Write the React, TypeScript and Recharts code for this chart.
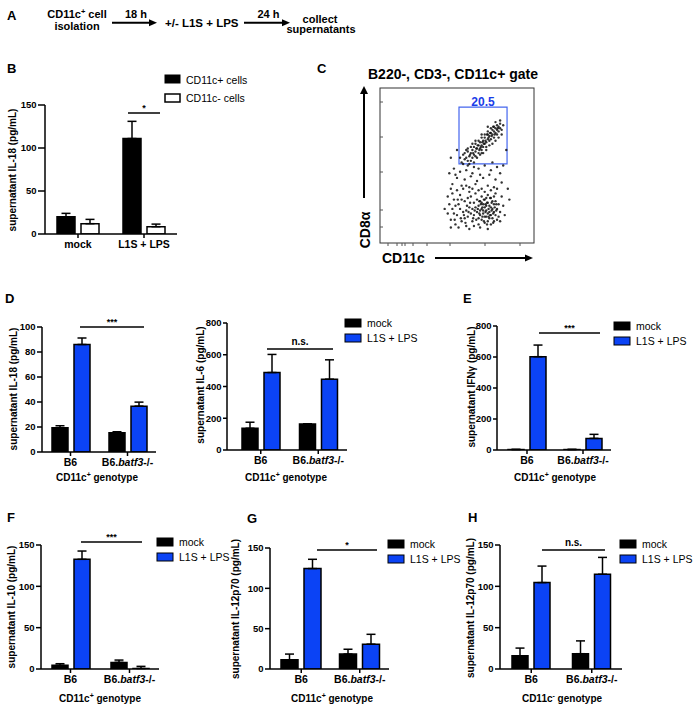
import React from "react";
import {
  Bar,
  BarChart,
  ErrorBar,
  ReferenceArea,
  Scatter,
  ScatterChart,
  XAxis,
  YAxis,
} from "recharts";

const FONT = "'Liberation Sans', Arial, Helvetica, sans-serif";
const BLUE = "#0b43f5";
const GATE = "#4466ee";

// panel B
const bGroups = ["mock", "L1S + LPS"];
const bPos = [20, 111];
const bPosErr = [4, 20];
const bNeg = [12, 8.5];
const bNegErr = [5, 3];

// panels D-H share the genotype categories
const genotypes = ["B6", "B6.batf3-/-"];

const il18Mock = [19.4, 15.4];
const il18MockErr = [1.6, 0.8];
const il18Lps = [86, 36.7];
const il18LpsErr = [5.2, 3.2];

const il6Mock = [137, 164];
const il6MockErr = [38, 0];
const il6Lps = [488, 446];
const il6LpsErr = [114, 122];

const ifngMock = [3, 3];
const ifngMockErr = [1, 1];
const ifngLps = [602, 75];
const ifngLpsErr = [75, 26];

const il10Mock = [4.4, 8];
const il10MockErr = [2, 2.8];
const il10Lps = [132.7, 0.6];
const il10LpsErr = [10, 2.6];

const il12PosMock = [11.5, 18.5];
const il12PosMockErr = [7, 6];
const il12PosLps = [124.5, 30.8];
const il12PosLpsErr = [11.5, 12.2];

const il12NegMock = [16, 18.5];
const il12NegMockErr = [9.3, 15.5];
const il12NegLps = [104.5, 114.6];
const il12NegLpsErr = [20, 20.4];

// panel C, CD11c+ gate events (CD11c, CD8a) on a 0-100 display scale
const gateBox = { x1: 51.3, x2: 82.5, y1: 51, y2: 87.7 };
const gatePct = "20.5";
const cd8Upper = [
  [53,52],[55,54],[54,57],[56,55],[57,53],[58,56],[57,59],[59,58],[60,55],[60,60],[61,57],[62,59],[61,62],[63,61],[62,64],[64,58],
  [64,63],[65,61],[65,65],[66,63],[66,60],[67,66],[67,62],[68,64],[68,68],[69,65],[69,62],[70,67],[70,70],[71,66],[71,69],[72,71],
  [72,67],[73,70],[73,73],[74,68],[74,72],[75,71],[75,74],[76,73],[76,70],[77,75],[77,72],[78,74],[78,77],[79,73],[76,76],[74,75],
  [72,74],[70,72],[68,70],[66,68],[64,66],[62,66],[59,62],[57,61],[55,58],[58,51],[61,52],[63,55],[65,57],[67,58],[69,60],[71,63],
  [73,64],[75,66],[77,68],[79,70],[80,76],[78,79],[75,78],[70,75],[66,70],[60,64],[56,60],[52,55],[54,51],[59,53],[62,56],[66,58],
  [58.5,57],[60.5,58],[62.5,61],[64.5,60],[66.5,65],[68.5,66],[70.5,68],[72.5,69],[74.5,70],[76.5,74],[63.5,63],[67.5,64],[71.5,71],
  [73.5,75],[69.5,70],[65.5,62],
];
const cd8Middle = [
  [48,48],[52,46],[56,47],[60,45],[64,48],[68,50],[72,47],[76,49],[50,42],[55,41],[59,43],[63,40],[67,42],[71,44],[75,41],[78,45],
  [47,38],[53,37],[58,36],[62,38],[66,35],[70,37],[74,36],[49,44],[57,50],[65,44],[73,52],[61,49],[46,35],[79,39],
];
const cd8Lower = [
  [63,20],[64,24],[65,18],[65,27],[66,22],[66,15],[67,25],[67,19],[68,23],[68,28],[69,17],[69,21],[70,26],[70,14],[71,20],[71,24],
  [72,18],[72,29],[73,22],[73,16],[74,25],[74,20],[75,27],[75,18],[76,22],[64,16],[66,30],[68,13],[70,31],[72,12],[74,30],[76,15],
  [77,25],[78,20],[63,28],[62,23],[61,18],[67,21],[69,24],[71,16],[73,27],[65,21],[70,19],[72,23],[68,17],[66,26],[74,14],[75,32],
  [69,29],[64,12],[46,15],[47,22],[48,28],[49,12],[50,18],[51,25],[52,31],[53,14],[54,20],[55,27],[56,11],[57,17],[58,23],[59,30],
  [60,14],[61,26],[47,32],[50,34],[54,35],[58,33],[45,25],[48,19],[52,22],[55,16],[59,19],[62,32],[46,10],[51,10],[56,21],[53,28],
  [49,24],[57,29],[60,22],[44,19],[61,11],[56,37],[60,35],[64,34],[68,33],[72,34],[76,35],[79,30],[80,24],[78,14],[65,10],[70,9],
  [58,9],[45,45],[44,30],[82,60],[50,60],[80,50],[83,35],[46,55],[81,18],[42,22],[84,28],
  [63.5,22],[64.5,19],[65.5,25],[66.5,17],[67.5,28],[68.5,20],[69.5,26],[70.5,22],[71.5,18],[72.5,26],[73.5,19],[74.5,23],
  [75.5,21],[67.5,14],[69.5,12],[71.5,29],[73.5,13],[66.5,23],[68.5,25],[70.5,17],[72.5,21],[64.5,27],[62.5,15],[75.5,25],
  [77,17],[61.5,21],[60.5,16],[58.5,26],[56.5,24],[54.5,18],[52.5,16],[50.5,28],[48.5,15],[55.5,13],[57.5,20],
];

type Row = { name: string; a: number; aErr: number[]; b: number; bErr: number[] };

function makeRows(names: string[], a: number[], aErr: number[], b: number[], bErr: number[]): Row[] {
  return names.map((name, i) => ({ name, a: a[i], aErr: [0, aErr[i]], b: b[i], bErr: [0, bErr[i]] }));
}

const axisStyle = { stroke: "#000", strokeWidth: 1.5 };

function CatTick(props: any) {
  const { x, y, payload } = props;
  const v: string = payload.value;
  const parts = v.startsWith("B6.") ? (
    <>
      <tspan>B6.</tspan>
      <tspan fontStyle="italic">batf3</tspan>
      <tspan>-/-</tspan>
    </>
  ) : (
    v
  );
  return (
    <text x={x} y={y + 8} textAnchor="middle" fontSize={10.5} fontWeight={700} fontFamily={FONT} fill="#000">
      {parts}
    </text>
  );
}

function BarPanel({
  x0, x1, yTop, yBot, max, ticks, data, colors, barSize = 16, padLeft = 0, tickLen = 5,
}: {
  x0: number; x1: number; yTop: number; yBot: number; max: number; ticks: number[];
  data: Row[]; colors: string[]; barSize?: number; padLeft?: number; tickLen?: number;
}) {
  const ml = 40, mt = 10, mr = 6, xh = 30;
  return (
    <div style={{ position: "absolute", left: x0 - ml, top: yTop - mt }}>
      <BarChart
        width={ml + (x1 - x0) + mr}
        height={mt + (yBot - yTop) + xh}
        data={data}
        margin={{ top: mt, right: mr, left: 0, bottom: 0 }}
        barGap={6}
        barSize={barSize}
      >
        <XAxis
          dataKey="name"
          height={xh}
          interval={0}
          tickSize={4}
          tickMargin={2}
          padding={{ left: padLeft, right: 0 }}
          axisLine={axisStyle}
          tickLine={axisStyle}
          tick={<CatTick />}
        />
        <YAxis
          width={ml}
          type="number"
          domain={[0, max]}
          ticks={ticks}
          allowDataOverflow
          tickSize={tickLen}
          tickMargin={1.5}
          axisLine={axisStyle}
          tickLine={axisStyle}
          tick={{ fill: "#000", fontSize: 9.5, fontWeight: 700, fontFamily: FONT }}
        />
        {["a", "b"].map((k, i) => (
          <Bar key={k} dataKey={k} fill={colors[i]} stroke="#000" strokeWidth={1.5} isAnimationActive={false}>
            <ErrorBar dataKey={k + "Err"} width={4.5} stroke="#000" strokeWidth={1.5} direction="y" />
          </Bar>
        ))}
      </BarChart>
    </div>
  );
}

function Txt(props: any) {
  return <text fontFamily={FONT} fill="#000" {...props} />;
}

function YTitle({ x, y, label }: { x: number; y: number; label: string }) {
  return (
    <Txt x={x + 3.5} y={y} fontSize={10} fontWeight={700} textAnchor="middle" transform={`rotate(-90 ${x + 3.5} ${y})`}>
      {label}
    </Txt>
  );
}

function XTitle({ x, y, sign }: { x: number; y: number; sign: string }) {
  return (
    <Txt x={x} y={y} fontSize={10} fontWeight={700} textAnchor="middle">
      CD11c<tspan dy={-4} fontSize={7}>{sign}</tspan>
      <tspan dy={4}> genotype</tspan>
    </Txt>
  );
}

function Legend2({ x, y, labels, fills }: { x: number; y: number; labels: string[]; fills: string[] }) {
  return (
    <g>
      {labels.map((l, i) => (
        <g key={l}>
          <rect x={x} y={y + i * 15} width={16} height={8} fill={fills[i]} stroke="#000" strokeWidth={1} />
          <Txt x={x + 22} y={y + i * 15 + 7.5} fontSize={10.5}>
            {l}
          </Txt>
        </g>
      ))}
    </g>
  );
}

function Sig({ x1, x2, y, label }: { x1: number; x2: number; y: number; label: string }) {
  const star = label.startsWith("*");
  return (
    <g>
      <line x1={x1} x2={x2} y1={y} y2={y} stroke="#000" strokeWidth={1.5} />
      <Txt x={(x1 + x2) / 2} y={star ? y - 2 : y - 4} fontSize={star ? 9 : 10} fontWeight={700} textAnchor="middle">
        {label}
      </Txt>
    </g>
  );
}

function Arrow({ x1, y1, x2, y2 }: { x1: number; y1: number; x2: number; y2: number }) {
  const horiz = y1 === y2;
  const head = horiz
    ? `${x2 - 8},${y2 - 3.5} ${x2},${y2} ${x2 - 8},${y2 + 3.5}`
    : `${x2 - 4},${y2 + 8} ${x2},${y2} ${x2 + 4},${y2 + 8}`;
  return (
    <g>
      <line x1={x1} y1={y1} x2={horiz ? x2 - 6 : x2} y2={horiz ? y2 : y2 + 6} stroke="#000" strokeWidth={2} />
      <polygon points={head} fill="#000" />
    </g>
  );
}

const dot = (p: any) => <circle cx={p.cx} cy={p.cy} r={1.2} fill="#111" fillOpacity={0.85} />;

const frameLeftTicks = [102, 137, 172, 210, 227];
const frameBottomTicks = [388, 397, 402, 405, 413, 427, 450, 485, 520];

export default function App() {
  const lpsFills = ["#000", BLUE];
  const cd8Points = [...cd8Upper, ...cd8Middle, ...cd8Lower].map(([x, y]) => ({ x, y }));

  return (
    <div style={{ position: "absolute", left: 0, top: 0, width: 695, height: 711, background: "#fff", overflow: "hidden" }}>
      {/* B */}
      <BarPanel x0={45} x1={177} yTop={105} yBot={234} max={150} ticks={[0, 50, 100, 150]}
        data={makeRows(bGroups, bPos, bPosErr, bNeg, bNegErr)} colors={["#000", "#fff"]} barSize={18} tickLen={7} />

      {/* C */}
      <div style={{ position: "absolute", left: 380, top: 88 }}>
        <ScatterChart width={154} height={155} margin={{ top: 0, right: 0, bottom: 0, left: 0 }}>
          <XAxis type="number" dataKey="x" domain={[0, 100]} hide />
          <YAxis type="number" dataKey="y" domain={[0, 100]} hide />
          <Scatter data={cd8Points} shape={dot} isAnimationActive={false} />
          <ReferenceArea x1={gateBox.x1} x2={gateBox.x2} y1={gateBox.y1} y2={gateBox.y2} fill="none" fillOpacity={0} stroke={GATE} strokeWidth={1.2} />
        </ScatterChart>
      </div>

      {/* D-H */}
      <BarPanel x0={42} x1={156} yTop={327} yBot={452} max={100} ticks={[0, 20, 40, 60, 80, 100]}
        data={makeRows(genotypes, il18Mock, il18MockErr, il18Lps, il18LpsErr)} colors={lpsFills} />
      <BarPanel x0={227} x1={347} yTop={323} yBot={450} max={800} ticks={[0, 200, 400, 600, 800]}
        data={makeRows(genotypes, il6Mock, il6MockErr, il6Lps, il6LpsErr)} colors={lpsFills} padLeft={5} tickLen={4} />
      <BarPanel x0={497} x1={611} yTop={326} yBot={450} max={800} ticks={[0, 200, 400, 600, 800]}
        data={makeRows(genotypes, ifngMock, ifngMockErr, ifngLps, ifngLpsErr)} colors={lpsFills} padLeft={2} tickLen={4} />
      <BarPanel x0={41} x1={159} yTop={545} yBot={669} max={150} ticks={[0, 50, 100, 150]}
        data={makeRows(genotypes, il10Mock, il10MockErr, il10Lps, il10LpsErr)} colors={lpsFills} />
      <BarPanel x0={270} x1={389} yTop={548} yBot={669} max={150} ticks={[0, 50, 100, 150]}
        data={makeRows(genotypes, il12PosMock, il12PosMockErr, il12PosLps, il12PosLpsErr)} colors={lpsFills} barSize={17} padLeft={2} />
      <BarPanel x0={500} x1={622} yTop={545} yBot={669} max={150} ticks={[0, 50, 100, 150]}
        data={makeRows(genotypes, il12NegMock, il12NegMockErr, il12NegLps, il12NegLpsErr)} colors={lpsFills} padLeft={1} />

      <svg width={695} height={711} style={{ position: "absolute", left: 0, top: 0, pointerEvents: "none" }}>
        {/* panel letters */}
        {[["A", 7, 20], ["B", 7, 73], ["C", 317, 73], ["D", 5, 303], ["E", 463, 303], ["F", 7, 522], ["G", 247, 523], ["H", 468, 522]].map(
          ([l, x, y]) => (
            <Txt key={l as string} x={x} y={y} fontSize={13} fontWeight={700}>
              {l}
            </Txt>
          )
        )}

        {/* A: workflow */}
        <Txt x={77} y={18} fontSize={11} fontWeight={700} textAnchor="middle">
          CD11c<tspan dy={-4} fontSize={7.5}>+</tspan>
          <tspan dy={4}> cell</tspan>
        </Txt>
        <Txt x={77} y={29.5} fontSize={11} fontWeight={700} textAnchor="middle">isolation</Txt>
        <Txt x={136} y={17.5} fontSize={11} fontWeight={700} textAnchor="middle">18 h</Txt>
        <Arrow x1={112} y1={22.7} x2={157} y2={22.7} />
        <Txt x={165} y={27} fontSize={11.5} fontWeight={700}>+/- L1S + LPS</Txt>
        <Arrow x1={244} y1={22.7} x2={290} y2={22.7} />
        <Txt x={268.5} y={17.5} fontSize={11} fontWeight={700} textAnchor="middle">24 h</Txt>
        <Txt x={320} y={22.5} fontSize={11} fontWeight={700} textAnchor="middle">collect</Txt>
        <Txt x={321} y={33} fontSize={11} fontWeight={700} textAnchor="middle">supernatants</Txt>

        {/* B */}
        <YTitle x={12} y={170} label="supernatant IL-18 (pg/mL)" />
        <rect x={165} y={75} width={15} height={8} fill="#000" stroke="#000" />
        <Txt x={186} y={84} fontSize={10.5}>CD11c+ cells</Txt>
        <rect x={165} y={94} width={15} height={8} fill="#fff" stroke="#000" strokeWidth={1.5} />
        <Txt x={186} y={101.5} fontSize={10.5}>CD11c- cells</Txt>
        <Sig x1={128} x2={160} y={113} label="*" />

        {/* C */}
        <Txt x={453} y={79} fontSize={14} fontWeight={700} textAnchor="middle">B220-, CD3-, CD11c+ gate</Txt>
        <rect x={380} y={88} width={154} height={155} fill="none" stroke="#333" strokeWidth={1} />
        {frameLeftTicks.map((y) => (
          <line key={y} x1={380} x2={383} y1={y} y2={y} stroke="#555" strokeWidth={1} />
        ))}
        {frameBottomTicks.map((x) => (
          <line key={x} x1={x} x2={x} y1={243} y2={246} stroke="#555" strokeWidth={1} />
        ))}
        <Txt x={483} y={105.5} fontSize={12} fontWeight={700} textAnchor="middle" fill="#1a3de8">{gatePct}</Txt>
        <Arrow x1={364} y1={198} x2={364} y2={86} />
        <Txt x={370} y={230} fontSize={14} fontWeight={700} textAnchor="middle" transform="rotate(-90 370 230)">CD8α</Txt>
        <Arrow x1={435} y1={258} x2={533} y2={258} />
        <Txt x={382} y={263} fontSize={14} fontWeight={700}>CD11c</Txt>

        {/* D */}
        <YTitle x={13} y={389} label="supernatant IL-18 (pg/mL)" />
        <Sig x1={80} x2={144} y={327} label="***" />
        <XTitle x={97} y={481} sign="+" />
        <YTitle x={200} y={385} label="supernatant IL-6 (pg/mL)" />
        <Sig x1={267} x2={333} y={349} label="n.s." />
        <XTitle x={286} y={481} sign="+" />
        <Legend2 x={345} y={319} labels={["mock", "L1S + LPS"]} fills={lpsFills} />

        {/* E */}
        <YTitle x={471.5} y={387} label="supernatant IFNγ (pg/mL)" />
        <Sig x1={539} x2={600} y={333} label="***" />
        <XTitle x={555} y={481} sign="+" />
        <Legend2 x={614} y={322} labels={["mock", "L1S + LPS"]} fills={lpsFills} />

        {/* F */}
        <YTitle x={11.5} y={607} label="supernatant IL-10 (pg/mL)" />
        <Sig x1={81} x2={142} y={542} label="***" />
        <XTitle x={100} y={702} sign="+" />
        <Legend2 x={157} y={538} labels={["mock", "L1S + LPS"]} fills={lpsFills} />

        {/* G */}
        <YTitle x={235} y={609} label="supernatant IL-12p70 (pg/mL)" />
        <Sig x1={317} x2={377} y={550} label="*" />
        <XTitle x={332} y={702} sign="+" />
        <Legend2 x={388} y={540} labels={["mock", "L1S + LPS"]} fills={lpsFills} />

        {/* H */}
        <YTitle x={470} y={608} label="supernatant IL-12p70 (pg/mL)" />
        <Sig x1={542} x2={605} y={550} label="n.s." />
        <XTitle x={562} y={702} sign="-" />
        <Legend2 x={620} y={540} labels={["mock", "L1S + LPS"]} fills={lpsFills} />
      </svg>
    </div>
  );
}
